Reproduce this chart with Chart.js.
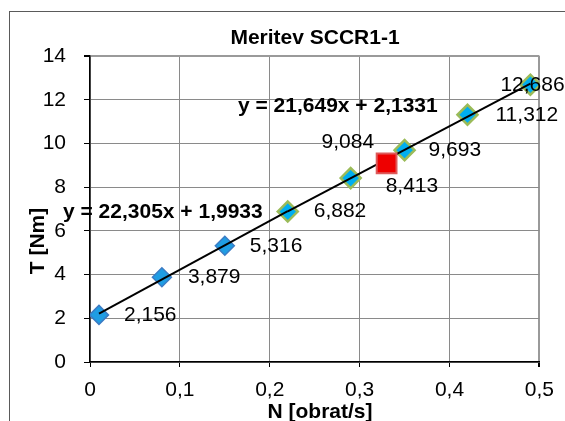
<!DOCTYPE html>
<html>
<head>
<meta charset="utf-8">
<script src="https://cdn.jsdelivr.net/npm/chart.js@4.4.1/dist/chart.umd.min.js"></script>
<style>
  html, body { margin: 0; padding: 0; background: #fff; }
  #wrap { width: 565px; height: 421px; position: relative; }
</style>
</head>
<body>
<div id="wrap"><canvas id="c" width="565" height="421"></canvas></div>
<script>
// Meritev SCCR1-1: navor T v odvisnosti od vrtilne frekvence N
const chartTitle = 'Meritev SCCR1-1';
const xTitle = 'N [obrat/s]';
const yTitle = 'T [Nm]';

// prvi niz meritev (nizke vrtilne frekvence)
const n1 = [0.01, 0.08, 0.15, 0.22];
const t1 = [2.156, 3.879, 5.316, 6.882];
// drugi niz meritev (višje vrtilne frekvence)
const n2 = [0.22, 0.29, 0.35, 0.42, 0.49];
const t2 = [6.882, 8.413, 9.693, 11.312, 12.686];
// posamezna kontrolna točka
const n3 = [0.33];
const t3 = [9.084];

// linearna trenda: [naklon, odsek]
const trend1 = [22.305, 1.9933];
const trend2 = [21.649, 2.1331];

const xTicks = [0, 0.1, 0.2, 0.3, 0.4, 0.5];
const yTicks = [0, 2, 4, 6, 8, 10, 12, 14];

const FONT = '"Liberation Sans", Arial, sans-serif';
const FS = 21;
const comma = v => String(v).replace('.', ',');
const fmt3 = v => v.toFixed(3).replace('.', ',');
const pts = (xs, ys) => xs.map((x, i) => ({ x, y: ys[i] }));
const trendPts = (xs, c) => [xs[0], xs[xs.length - 1]].map(x => ({ x, y: c[0] * x + c[1] }));
const eqText = c => 'y = ' + comma(c[0]) + 'x + ' + comma(c[1]);

// zamiki oznak vrednosti glede na točko [dx, dy]
const labelShift = {
  0: [[25, 0], [26, 0], [25, 0], null],
  1: [[26, 0], [35, 8], [24, 0], [28, 0], [-30, 0]],
  4: [[-65, -21]]
};

const decor = {
  id: 'decor',
  beforeDraw(chart) {
    const ctx = chart.ctx;
    ctx.save();
    ctx.fillStyle = '#fff';
    ctx.fillRect(0, 0, chart.width, chart.height);
    ctx.strokeStyle = '#5a5a5a';
    ctx.lineWidth = 1;
    ctx.strokeRect(9.5, 11.5, 700, 600);
    ctx.restore();
  },
  afterDatasetsDraw(chart) {
    const ctx = chart.ctx;
    ctx.save();
    ctx.fillStyle = '#000';
    ctx.textBaseline = 'middle';
    ctx.textAlign = 'left';
    ctx.font = FS + 'px ' + FONT;
    Object.keys(labelShift).forEach(di => {
      const ds = chart.data.datasets[di];
      const meta = chart.getDatasetMeta(di);
      meta.data.forEach((el, i) => {
        const s = labelShift[di][i];
        if (!s) return;
        ctx.fillText(fmt3(ds.data[i].y), el.x + s[0], el.y + s[1]);
      });
    });
    // enačbi trendov
    ctx.font = 'bold ' + FS + 'px ' + FONT;
    ctx.fillText(eqText(trend2), 238, 106);
    ctx.fillText(eqText(trend1), 63, 212);
    // naslov in osi
    ctx.textAlign = 'center';
    ctx.fillText(chartTitle, 315, 38);
    ctx.fillText(xTitle, 320, 412);
    ctx.translate(38, 241);
    ctx.rotate(-Math.PI / 2);
    ctx.fillText(yTitle, 0, 0);
    ctx.restore();
  }
};

const gridW = (max) => ctx => (ctx.tick && ctx.tick.value === max ? 2 : 1);
const gridC = (max) => ctx => (ctx.tick && ctx.tick.value === max ? '#9a9a9a' : '#8a8a8a');

new Chart(document.getElementById('c'), {
  type: 'scatter',
  data: {
    datasets: [
      {
        data: pts(n1, t1), pointStyle: 'rectRot', pointRadius: 9.5,
        backgroundColor: '#1f9de3', borderColor: '#3b7cc4', borderWidth: 1.5, order: 4
      },
      {
        data: pts(n2, t2), pointStyle: 'rectRot', pointRadius: 10,
        backgroundColor: '#00aeef', borderColor: '#9bbb59', borderWidth: 2.5, order: 3
      },
      {
        type: 'line', data: trendPts(n1, trend1), showLine: true, pointRadius: 0,
        borderColor: '#000', borderWidth: 2, fill: false, order: 2
      },
      {
        type: 'line', data: trendPts(n2, trend2), showLine: true, pointRadius: 0,
        borderColor: '#000', borderWidth: 2, fill: false, order: 2
      },
      {
        data: pts(n3, t3), pointStyle: 'rect', pointRadius: 14,
        backgroundColor: '#ee0000', borderColor: '#dd5a5a', borderWidth: 2, order: 1
      }
    ]
  },
  options: {
    responsive: false,
    animation: false,
    events: [],
    layout: { padding: { left: 0, top: 56, right: 22, bottom: 0 } },
    plugins: { legend: { display: false }, tooltip: { enabled: false }, title: { display: false } },
    scales: {
      x: {
        type: 'linear',
        min: xTicks[0], max: xTicks[xTicks.length - 1],
        afterBuildTicks: s => { s.ticks = xTicks.map(v => ({ value: v })); },
        afterFit: s => { s.height = 59; },
        grid: { color: gridC(0.5), lineWidth: gridW(0.5), tickLength: 5, tickColor: '#000' },
        border: { color: '#000', width: 1.5 },
        ticks: { padding: 11, color: '#000', font: { family: FONT, size: FS }, maxRotation: 0,
                 callback: v => comma(Math.round(v * 10) / 10) }
      },
      y: {
        type: 'linear',
        min: yTicks[0], max: yTicks[yTicks.length - 1],
        afterBuildTicks: s => { s.ticks = yTicks.map(v => ({ value: v })); },
        afterFit: s => { s.width = 90; },
        grid: { color: gridC(14), lineWidth: gridW(14), tickLength: 6, tickColor: '#000' },
        border: { color: '#000', width: 1.5 },
        ticks: { padding: 18, color: '#000', font: { family: FONT, size: FS },
                 callback: v => comma(v) }
      }
    }
  },
  plugins: [decor]
});
</script>
</body>
</html>
